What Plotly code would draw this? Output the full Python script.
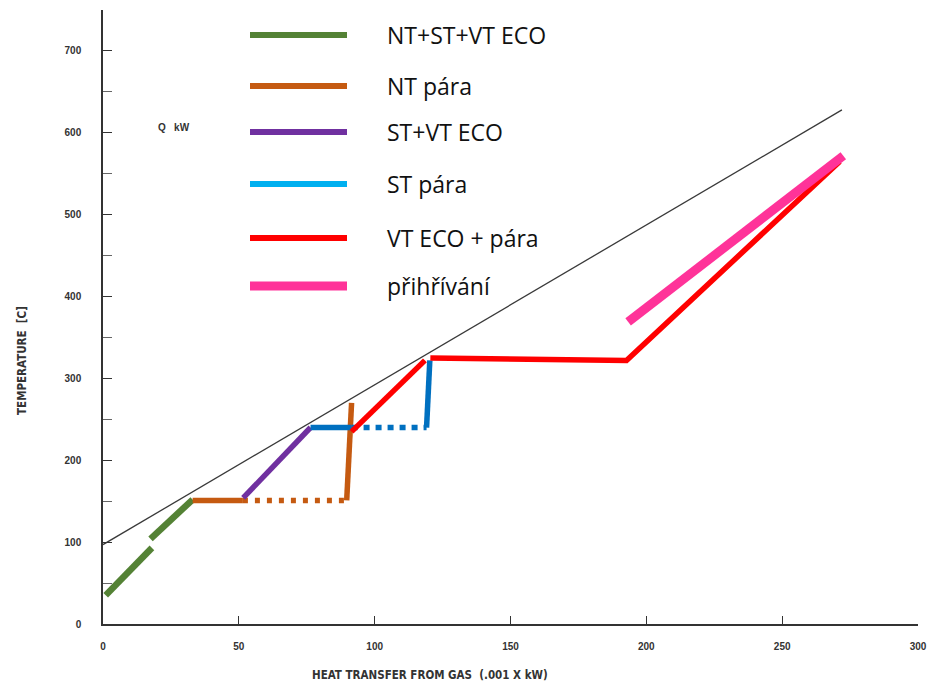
import plotly.graph_objects as go

# ---- data ----
gas_x = [0, 272]
gas_y = [97, 628]

green_x = [1, 18, None, 17.5, 33]
green_y = [35, 93, None, 104, 152]

nt_solid_x = [33, 51.5, None, 89.7, 91.5]
nt_solid_y = [151, 151, None, 151, 270]
nt_dot_x = [51.5, 89.7]
nt_dot_y = [151, 151]

purple_x = [51.6, 76.4]
purple_y = [154, 240]

st_solid_x = [76.4, 91.5, None, 119.1, 120.3]
st_solid_y = [240, 240, None, 240, 322]
st_dot_x = [91.5, 119.1]
st_dot_y = [240, 240]

red_x = [91.5, 118.5, None, 120.5, 192.7, 271.2]
red_y = [235, 322, None, 325, 322, 565]

pink_x = [193.3, 272.5]
pink_y = [369, 572]

legend_labels = ["NT+ST+VT ECO", "NT pára", "ST+VT ECO", "ST pára", "VT ECO + pára", "přihřívání"]
legend_colors = ["#548235", "#C55A11", "#7030A0", "#00B0F0", "#FF0000", "#FF3399"]
legend_widths = [6, 6, 6, 6, 6, 9]

x_ticks = [0, 50, 100, 150, 200, 250, 300]
y_ticks = [0, 100, 200, 300, 400, 500, 600, 700]

GREEN, ORANGE, PURPLE, BLUE, RED, PINK = "#548235", "#C55A11", "#7030A0", "#0070C0", "#FF0000", "#FF3399"

fig = go.Figure()

def add(x, y, color, width, dash="solid"):
    fig.add_trace(go.Scatter(x=x, y=y, mode="lines", showlegend=False, hoverinfo="skip",
                             connectgaps=False,
                             line=dict(color=color, width=width, dash=dash)))

add(gas_x, gas_y, "#3a3a3a", 1.3)
add(green_x, green_y, GREEN, 6.5)
add(nt_dot_x, nt_dot_y, ORANGE, 5.5, "5px,7px")
add(nt_solid_x, nt_solid_y, ORANGE, 5.5)
add(purple_x, purple_y, PURPLE, 5.5)
add(st_dot_x, st_dot_y, BLUE, 5.5, "6px,6px")
add(st_solid_x, st_solid_y, BLUE, 5.5)
add(red_x, red_y, RED, 5.5)
add(pink_x, pink_y, PINK, 9)

# ---- custom legend (paper coordinates) ----
leg_y_px = [35, 86, 132, 184, 238, 286]
L, T, PW, PH = 103, 10, 815, 614
shapes = []
annotations = []
for lab, col, w, py in zip(legend_labels, legend_colors, legend_widths, leg_y_px):
    yp = (T + PH - py) / PH
    shapes.append(dict(type="line", xref="paper", yref="paper",
                       x0=(250 - L) / PW, x1=(347 - L) / PW, y0=yp, y1=yp,
                       line=dict(color=col, width=w)))
    annotations.append(dict(xref="paper", yref="paper", x=(385 - L) / PW, y=yp,
                            xanchor="left", yanchor="middle", showarrow=False,
                            text=lab, font=dict(family="Open Sans", size=23, color="#111")))

annotations.append(dict(x=26, y=606, xref="x", yref="y", showarrow=False,
                        text="<b>Q&nbsp;&nbsp;&nbsp;kW</b>",
                        font=dict(family="Liberation Sans", size=10, color="#333")))
annotations.append(dict(xref="paper", yref="paper", x=(22 - L) / PW, y=(T + PH - 361) / PH,
                        textangle=-90, showarrow=False, xanchor="center", yanchor="middle",
                        text="<b>TEMPERATURE  [C]</b>",
                        font=dict(family="Liberation Sans Narrow, DejaVu Sans Condensed", size=11.5, color="#333")))
annotations.append(dict(xref="paper", yref="paper", x=(430 - L) / PW, y=(T + PH - 675) / PH,
                        showarrow=False, xanchor="center", yanchor="middle",
                        text="<b>HEAT TRANSFER FROM GAS  (.001 X kW)</b>",
                        font=dict(family="Liberation Sans Narrow, DejaVu Sans Condensed", size=11.5, color="#333")))

tickfont = dict(family="Liberation Sans", size=10, color="#333", weight="bold")

fig.update_layout(
    width=931, height=687,
    margin=dict(l=L, r=931 - L - PW, t=T, b=687 - T - PH, autoexpand=False),
    paper_bgcolor="white", plot_bgcolor="white",
    shapes=shapes, annotations=annotations,
    xaxis=dict(range=[0, 300], tickvals=x_ticks, ticktext=[str(v) for v in x_ticks],
               automargin=False,
               showgrid=False, zeroline=False, showline=True, linecolor="#333", linewidth=1.5,
               ticks="inside", ticklen=8, tickcolor="#333", tickwidth=1.3,
               tickfont=tickfont, ticklabelstandoff=12),
    yaxis=dict(range=[0, 750], tickvals=y_ticks, ticktext=[str(v) for v in y_ticks],
               automargin=False,
               showgrid=False, zeroline=False, showline=True, linecolor="#333", linewidth=1.5,
               ticks="inside", ticklen=9, tickcolor="#333", tickwidth=1.3,
               minor=dict(dtick=50, tick0=0, ticks="inside", ticklen=9, tickcolor="#666", tickwidth=1),
               tickfont=tickfont, ticklabelstandoff=18),
)

fig.write_html("out.html", config={"displayModeBar": False},
               post_script="document.body.style.margin='0';document.body.style.overflow='hidden';")
